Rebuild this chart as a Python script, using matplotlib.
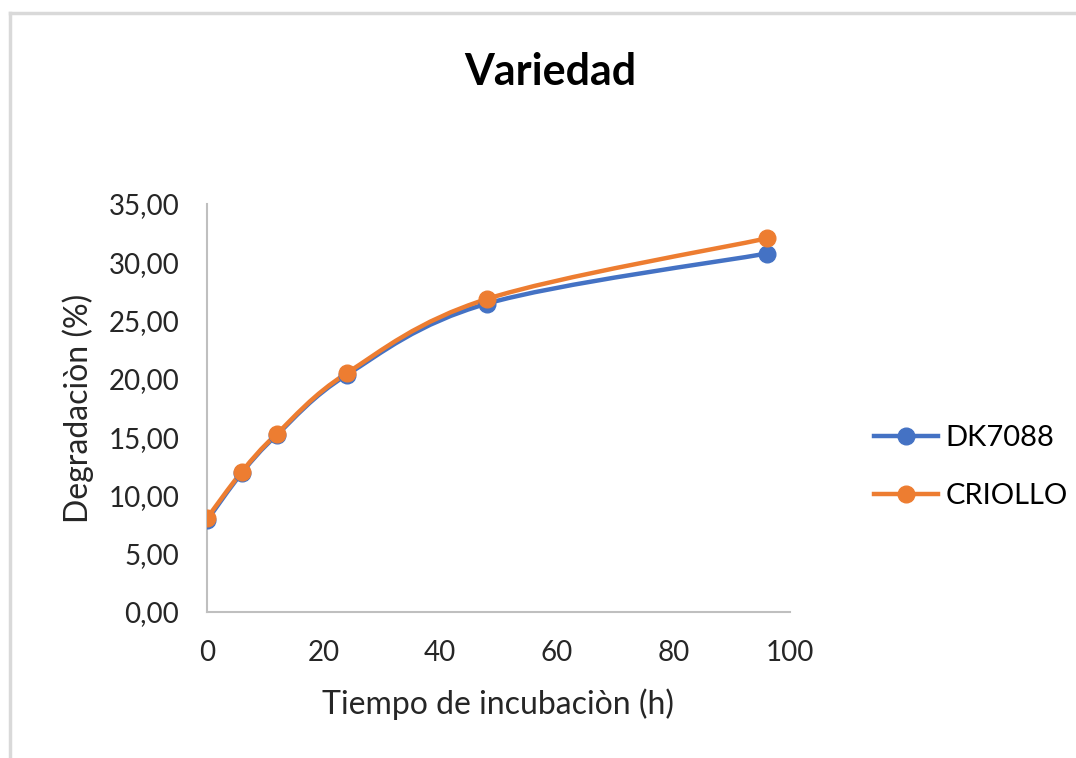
import numpy as np
import matplotlib.pyplot as plt
from matplotlib.path import Path
from matplotlib.patches import PathPatch
from matplotlib.lines import Line2D

plt.rcParams['font.family'] = ['Lato', 'DejaVu Sans']

# data
horas = [0, 6, 12, 24, 48, 96]
dk7088 = [7.85, 11.95, 15.2, 20.35, 26.45, 30.75]
criollo = [8.05, 12.05, 15.3, 20.5, 26.85, 32.05]
series = ['DK7088', 'CRIOLLO']
colores = ['#4472C4', '#ED7D31']
yticks = [0, 5, 10, 15, 20, 25, 30, 35]
xticks = [0, 20, 40, 60, 80, 100]


def smooth_path(x, y):
    # Excel-like smoothed line: cubic Bezier segments (Catmull-Rom control points)
    pts = np.column_stack([x, y]).astype(float)
    n = len(pts)
    verts = [pts[0]]
    codes = [Path.MOVETO]
    for i in range(n - 1):
        p0 = pts[i - 1] if i > 0 else pts[i]
        p1 = pts[i]
        p2 = pts[i + 1]
        p3 = pts[i + 2] if i + 2 < n else pts[i + 1]
        c1 = p1 + (p2 - p0) / 6
        c2 = p2 - (p3 - p1) / 6
        verts += [c1, c2, p2]
        codes += [Path.CURVE4] * 3
    return Path(verts, codes)


fig = plt.figure(figsize=(10.76, 7.58), dpi=100)
ax = fig.add_axes([207 / 1076, 1 - 612 / 758, 583 / 1076, 408 / 758])

for vals, name, c in zip([dk7088, criollo], series, colores):
    ax.add_patch(PathPatch(smooth_path(horas, vals), facecolor='none',
                           edgecolor=c, lw=3.2, capstyle='round', zorder=3))
    ax.plot(horas, vals, 'o', color=c, ms=12, zorder=4)

ax.set_xlim(0, 100)
ax.set_ylim(0, 35)
ax.set_xticks(xticks)
ax.set_yticks(yticks)
ax.set_yticklabels([f'{v:.2f}'.replace('.', ',') for v in yticks])
ax.tick_params(length=0, labelsize=20, colors='#262626')
ax.tick_params(axis='x', pad=20)
ax.tick_params(axis='y', pad=20)
for s in ['top', 'right']:
    ax.spines[s].set_visible(False)
for s in ['left', 'bottom']:
    ax.spines[s].set_color('#BFBFBF')
    ax.spines[s].set_linewidth(1.5)

ax.set_xlabel('Tiempo de incubaciòn (h)', fontsize=23, color='#262626', labelpad=16)
ax.set_ylabel('Degradaciòn (%)', fontsize=23, color='#262626', labelpad=10)
fig.text(550 / 1076, 1 - 72 / 758, 'Variedad', ha='center', va='center',
         fontsize=31, fontweight='bold', color='black')

handles = [Line2D([], [], color=c, lw=3.2, marker='o', ms=12) for c in colores]
fig.legend(handles, series, loc='center left', bbox_to_anchor=(848 / 1076, 1 - 467 / 758),
           frameon=False, fontsize=21, handlelength=2.2, labelspacing=1.1,
           handletextpad=0.25)

# chart area border (top and left only visible)
fig.add_artist(Line2D([10 / 1076, 1], [1 - 13 / 758, 1 - 13 / 758], color='#D9D9D9', lw=2.5))
fig.add_artist(Line2D([10 / 1076, 10 / 1076], [0, 1 - 13 / 758], color='#D9D9D9', lw=2.5))

fig.savefig('out.png', dpi=100)
